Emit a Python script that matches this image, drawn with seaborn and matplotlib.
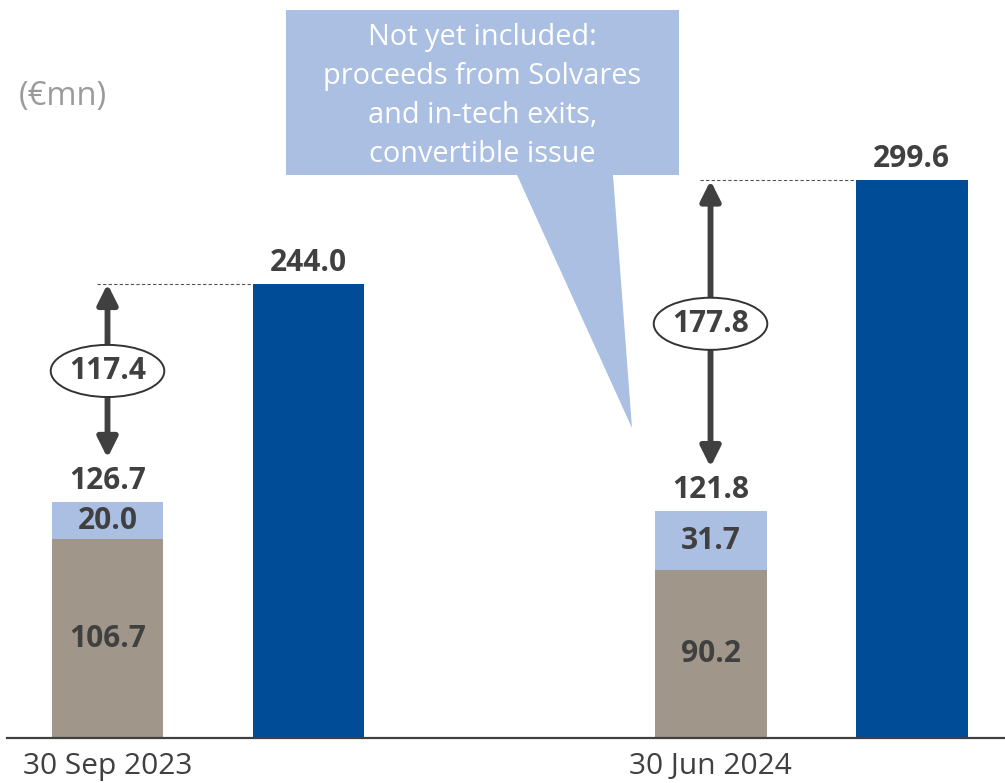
import matplotlib
matplotlib.use("Agg")
import matplotlib.pyplot as plt
from matplotlib.patches import Ellipse, Polygon
import seaborn as sns
import pandas as pd

# ---- data ----
dates = ["30 Sep 2023", "30 Jun 2024"]
base_values = [106.7, 90.2]          # grey segment
add_values = [20.0, 31.7]            # light-blue segment
stack_totals = [126.7, 121.8]        # stacked total
blue_values = [244.0, 299.6]         # dark-blue bar
gap_values = [117.4, 177.8]          # difference shown by the arrows
callout_lines = ["Not yet included:", "proceeds from Solvares",
                 "and in-tech exits,", "convertible issue"]

# ---- style ----
sns.set_theme(style="white")
plt.rcParams["font.family"] = ["Open Sans", "DejaVu Sans"]

C_GREY = "#A0968A"
C_LIGHT = "#AABFE1"
C_DARK = "#004C97"
C_TEXT = "#404040"

order = ["s2023", "b2023", "gap", "s2024", "b2024"]
stack_keys = ["s2023", "s2024"]
blue_keys = ["b2023", "b2024"]
stack_pos = [order.index(k) for k in stack_keys]
blue_pos = [order.index(k) for k in blue_keys]

df_tot = pd.DataFrame({"key": stack_keys, "val": stack_totals})
df_base = pd.DataFrame({"key": stack_keys, "val": base_values})
df_blue = pd.DataFrame({"key": blue_keys, "val": blue_values})

W = 1005
H = 783
fig = plt.figure(figsize=(W / 100, H / 100), dpi=100)
ax = fig.add_axes([7 / W, 45 / H, 998 / W, 738 / H])

bw = 0.557
sns.barplot(data=df_tot, x="key", y="val", order=order, color=C_LIGHT,
            saturation=1, width=bw, errorbar=None, ax=ax, linewidth=0)
sns.barplot(data=df_base, x="key", y="val", order=order, color=C_GREY,
            saturation=1, width=bw, errorbar=None, ax=ax, linewidth=0)
sns.barplot(data=df_blue, x="key", y="val", order=order, color=C_DARK,
            saturation=1, width=bw, errorbar=None, ax=ax, linewidth=0)

ax.set_xlim(-0.5, 4.465)
ax.set_ylim(0, 396.6)
ax.set_xlabel("")
ax.set_ylabel("")
ax.set_yticks([])
ax.set_xticks(stack_pos)
ax.set_xticklabels(dates)
ax.tick_params(axis="x", length=0, pad=10, labelsize=21.5, labelcolor=C_TEXT)
for s in ["left", "top", "right"]:
    ax.spines[s].set_visible(False)
ax.spines["bottom"].set_color(C_TEXT)
ax.spines["bottom"].set_linewidth(1.6)

lbl_kw = dict(ha="center", fontsize=21.5, fontweight="bold", color=C_TEXT)

for i in range(2):
    sp = stack_pos[i]
    bp = blue_pos[i]
    # inside labels
    ax.text(sp, base_values[i] / 2, f"{base_values[i]:.1f}", va="center", **lbl_kw)
    ax.text(sp, base_values[i] + add_values[i] / 2, f"{add_values[i]:.1f}", va="center", **lbl_kw)
    # totals
    ax.text(sp, stack_totals[i] + 7, f"{stack_totals[i]:.1f}", va="baseline", **lbl_kw)
    ax.text(bp, blue_values[i] + 7, f"{blue_values[i]:.1f}", va="baseline", **lbl_kw)
    # dashed guide
    ax.plot([sp - 0.05, bp - bw / 2], [blue_values[i], blue_values[i]],
            ls=(0, (3, 2)), lw=0.8, color="#555555", zorder=3)
    # double arrow
    low = stack_totals[i] + 23.8
    ax.annotate("", xy=(sp, low), xytext=(sp, blue_values[i]),
                arrowprops=dict(arrowstyle="<|-|>,head_length=0.6,head_width=0.3",
                                mutation_scale=20, lw=4.2, color=C_TEXT,
                                shrinkA=0, shrinkB=0), zorder=4)
    mid = (blue_values[i] + low) / 2
    ax.add_patch(Ellipse((sp, mid), 0.565, 28, facecolor="white",
                         edgecolor="#333333", lw=1.4, zorder=5))
    ax.text(sp, mid, f"{gap_values[i]:.1f}", va="center", zorder=6, **lbl_kw)

# callout (figure pixel coordinates)
def px(x, y):
    return (x / W, 1 - y / H)

pts = [px(286, 10), px(679, 10), px(679, 175), px(613, 175), px(632, 428),
       px(517, 175), px(286, 175)]
fig.patches.append(Polygon(pts, closed=True, facecolor=C_LIGHT, edgecolor="none",
                           transform=fig.transFigure, zorder=10))
for line, yb in zip(callout_lines, [45, 84, 123, 162]):
    fig.text(482.5 / W, 1 - yb / H, line, ha="center", va="baseline",
             fontsize=20.8, color="white", zorder=11)

fig.text(19 / W, 1 - 97 / H, "(€mn)", ha="left", va="center",
         fontsize=23.5, color="#9B9B9B")

fig.savefig("out.png", dpi=100)
